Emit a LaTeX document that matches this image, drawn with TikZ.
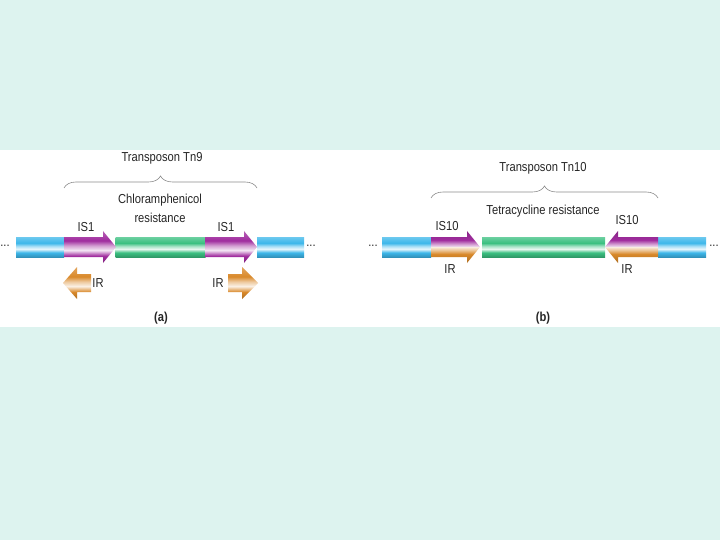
\documentclass[tikz,border=0pt]{standalone}
\usepackage{fontspec}
\setmainfont{Liberation Sans}[FakeStretch=0.86]
\usepackage{tikz}
\usetikzlibrary{decorations.pathreplacing}
\usepackage{xcolor}
\definecolor{pagebg}{HTML}{DDF3EF}
\definecolor{dnablue}{HTML}{3DB7EA}
\definecolor{ismag}{HTML}{A02C9E}
\definecolor{resgreen}{HTML}{3BC081}
\definecolor{irorange}{HTML}{D9892A}
\definecolor{labelgray}{HTML}{262626}

% tube look: saturated band with a light stripe just below the middle
\newcommand{\tubeshading}[2]{%
  \pgfdeclareverticalshading{#1}{100bp}{color(0bp)=(#2!80!black); color(25bp)=(#2!80!black);
    color(36bp)=(#2); color(45bp)=(#2!12); color(52bp)=(#2!45); color(60bp)=(#2);
    color(75bp)=(#2!75); color(100bp)=(#2!75)}}
\tubeshading{bluetube}{dnablue}
\tubeshading{greentube}{resgreen}
\tubeshading{magtube}{ismag}
\tubeshading{orangetube}{irorange}
% half tubes for the split IS10/IR arrows
\pgfdeclareverticalshading{magtop}{100bp}{color(0bp)=(ismag!12); color(25bp)=(ismag!12);
  color(35bp)=(ismag!50); color(47bp)=(ismag); color(75bp)=(ismag!85!black); color(100bp)=(ismag!85!black)}
\pgfdeclareverticalshading{orangebottom}{100bp}{color(0bp)=(irorange!80!black); color(25bp)=(irorange!80!black);
  color(53bp)=(irorange); color(65bp)=(irorange!50); color(75bp)=(irorange!15); color(100bp)=(irorange!15)}

\begin{document}
\begin{tikzpicture}[
  x=1pt, y=-1pt,
  seg/.style={rectangle, inner sep=0pt, minimum height=20pt, shading=#1},
  lbl/.style={text=labelgray, font=\fontsize{13}{16}\selectfont, inner sep=0pt},
  panelcap/.style={text=labelgray, font=\fontsize{13}{16}\selectfont\bfseries, inner sep=0pt},
  brc/.style={draw=black!45, line width=0.6pt, decorate, decoration={brace, amplitude=12pt}}
]
\useasboundingbox[fill=pagebg] (0,0) rectangle (720,540);
\fill[white] (0,150) rectangle (720,327);

% (a) Tn9
\node[seg=bluetube, minimum width=48pt] (flankAL) at (40,247) {};
\node[seg=greentube, minimum width=90pt] (cam) at (160.5,247) {};
\node[seg=bluetube, minimum width=47pt] (flankAR) at (280.5,247) {};
\shade[shading=magtube]
  (64,237) -- (103,237) -- (103,231) -- (116,247) -- (103,263) -- (103,257) -- (64,257) -- cycle;
\shade[shading=magtube]
  (205,237) -- (244,237) -- (244,231) -- (257,247) -- (244,263) -- (244,257) -- (205,257) -- cycle;
\shade[shading=orangetube]
  (91,274) -- (77,274) -- (77,267) -- (63,283) -- (77,299) -- (77,292) -- (91,292) -- cycle;
\shade[shading=orangetube]
  (228,274) -- (242,274) -- (242,267) -- (258,283) -- (242,299) -- (242,292) -- (228,292) -- cycle;

\node[lbl] (dotsAL) at (5,246) {...};
\node[lbl] (dotsAR) at (311,246) {...};
\node[lbl] (isAL) at (86,227) {IS1};
\node[lbl] (isAR) at (226,227) {IS1};
\node[lbl] (irAL) at (98,283) {IR};
\node[lbl] (irAR) at (218,283) {IR};
\node[lbl] (camtxt) at (160,200) {Chloramphenicol};
\node[lbl] (camtxt2) at (160,218) {resistance};
\coordinate (bAL) at (64,188);
\coordinate (bAR) at (257,188);
\draw[brc] (bAL) -- (bAR);
\node[lbl] (tn9) at (162,158) {Transposon Tn9};
\node[panelcap] (capa) at (161,318) {(a)};

% (b) Tn10
\node[seg=bluetube, minimum width=49pt] (flankBL) at (406.5,247) {};
\node[seg=greentube, minimum width=123pt] (tet) at (543.5,247) {};
\node[seg=bluetube, minimum width=48pt] (flankBR) at (682,247) {};
\shade[shading=magtop]
  (431,237) -- (467,237) -- (467,231) -- (480,247) -- (431,247) -- cycle;
\shade[shading=orangebottom]
  (431,247) -- (480,247) -- (467,263) -- (467,257) -- (431,257) -- cycle;
\shade[shading=magtop]
  (658,237) -- (618,237) -- (618,231) -- (605,247) -- (658,247) -- cycle;
\shade[shading=orangebottom]
  (658,247) -- (605,247) -- (618,263) -- (618,257) -- (658,257) -- cycle;

\node[lbl] (dotsBL) at (373,246) {...};
\node[lbl] (dotsBR) at (714,246) {...};
\node[lbl] (isBL) at (447,226) {IS10};
\node[lbl] (isBR) at (627,220) {IS10};
\node[lbl] (irBL) at (450,269) {IR};
\node[lbl] (irBR) at (627,269) {IR};
\node[lbl] (tettxt) at (543,211) {Tetracycline resistance};
\coordinate (bBL) at (431,198);
\coordinate (bBR) at (658,198);
\draw[brc] (bBL) -- (bBR);
\node[lbl] (tn10) at (543,168) {Transposon Tn10};
\node[panelcap] (capb) at (543,318) {(b)};
\end{tikzpicture}
\end{document}
